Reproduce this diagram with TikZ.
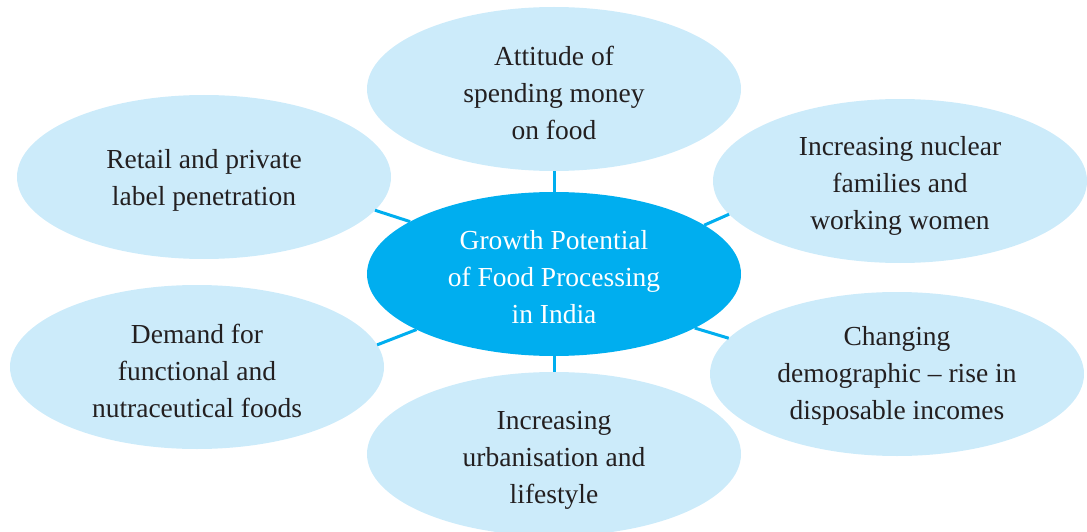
\documentclass[tikz,border=0pt]{standalone}
\usepackage{fontspec}
\setmainfont{Liberation Serif}
\usetikzlibrary{shapes.geometric}
\definecolor{lightblue}{HTML}{CCEBFA}
\definecolor{cyanmain}{HTML}{00AEEF}
\definecolor{darktext}{HTML}{231F20}
\tikzset{
  bubble/.style={ellipse, fill=lightblue, minimum width=374pt, minimum height=164pt, inner sep=0pt, outer sep=0pt},
  hub/.style={bubble, fill=cyanmain},
  txt/.style={align=center, text=darktext, font=\fontsize{27.5}{37}\selectfont, inner sep=0pt},
  hubtxt/.style={txt, text=white},
  link/.style={draw=cyanmain, line width=3pt}
}
\begin{document}
\begin{tikzpicture}[x=1pt,y=-1pt]
\useasboundingbox (0,0) rectangle (1087,532);
\node[bubble] (top) at (554,89) {};
\node[bubble] (tl) at (204,177) {};
\node[bubble] (tr) at (900,181) {};
\node[bubble] (bl) at (197,367) {};
\node[bubble] (br) at (897,374) {};
\node[bubble] (bot) at (554,454) {};
\node[hub] (c) at (554,274) {};
\draw[link] (top.south) -- (c.north);
\draw[link] (c.south) -- (bot.north);
\draw[link] (tl.-11) -- (c.160);
\draw[link] (tr.191) -- (c.18);
\draw[link] (br.168) -- (c.-21);
\draw[link] (bl.7) -- (c.202);
\node[txt] (topt) at (554,93) {Attitude of\\spending money\\on food};
\node[txt] (tlt) at (204,180) {Retail and private\\label penetration};
\node[txt] (trt) at (900,186) {Increasing nuclear\\families and\\working women};
\node[txt] (blt) at (197,371) {Demand for\\functional and\\nutraceutical foods};
\node[txt] (brt) at (897,376) {Changing\\demographic – rise in\\disposable incomes};
\node[txt] (bott) at (554,460) {Increasing\\urbanisation and\\lifestyle};
\node[hubtxt] (ct) at (554,277) {Growth Potential\\of Food Processing\\in India};
\end{tikzpicture}
\end{document}
